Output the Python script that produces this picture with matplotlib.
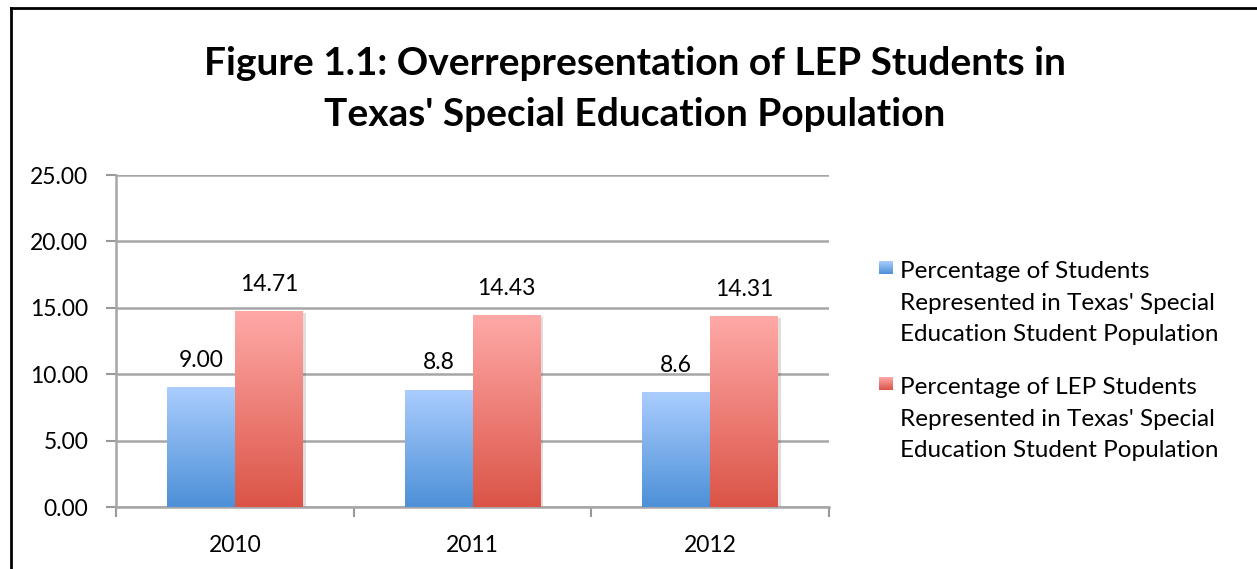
import matplotlib.pyplot as plt
import numpy as np
from matplotlib.colors import LinearSegmentedColormap
from matplotlib.lines import Line2D
import matplotlib.patheffects as pe

plt.rcParams['font.family'] = ['Lato', 'DejaVu Sans']

years = ['2010', '2011', '2012']
all_students = [9.00, 8.8, 8.6]
lep_students = [14.71, 14.43, 14.31]
all_labels = ['9.00', '8.8', '8.6']
lep_labels = ['14.71', '14.43', '14.31']
series_names = [
    "Percentage of Students\nRepresented in Texas' Special\nEducation Student Population",
    "Percentage of LEP Students\nRepresented in Texas' Special\nEducation Student Population",
]
title = ("Figure 1.1: Overrepresentation of LEP Students in\n"
         "Texas' Special Education Population")

blue_top, blue_bottom = '#aacdfe', '#4d90d7'
red_top, red_bottom = '#ffa9a7', '#db5447'

W, H = 1257, 569
fig = plt.figure(figsize=(W / 100, H / 100), dpi=100)
ax = fig.add_axes([116 / W, 1 - 507 / H, (829 - 116) / W, (507 - 175) / H])

x = np.arange(len(years))
width = 0.286
shadow = [pe.SimplePatchShadow(offset=(2, -1), alpha=0.15), pe.Normal()]
bars_a = ax.bar(x - width / 2, all_students, width, color=blue_bottom, zorder=2,
                path_effects=shadow)
bars_b = ax.bar(x + width / 2, lep_students, width, color=red_bottom, zorder=2,
                path_effects=shadow)

# gradient fill on top of each bar
grad = np.linspace(0, 1, 256).reshape(-1, 1)
for bars, top, bottom in [(bars_a, blue_top, blue_bottom), (bars_b, red_top, red_bottom)]:
    cmap = LinearSegmentedColormap.from_list('g', [bottom, top])
    for b in bars:
        bx, bw, bh = b.get_x(), b.get_width(), b.get_height()
        ax.imshow(grad, cmap=cmap, extent=[bx, bx + bw, 0, bh], origin='lower',
                  aspect='auto', zorder=3)

for bars, labels in [(bars_a, all_labels), (bars_b, lep_labels)]:
    for b, lab in zip(bars, labels):
        ax.annotate(lab, (b.get_x() + b.get_width() / 2, b.get_height()),
                    xytext=(0, 15), textcoords='offset points',
                    ha='center', va='baseline', fontsize=16.5)

ax.set_xlim(-0.5, 2.5)
ax.set_ylim(0, 25)
ax.set_yticks(np.arange(0, 26, 5))
ax.set_yticklabels([f'{v:.2f}' for v in np.arange(0, 26, 5)])
ax.set_xticks(x)
ax.set_xticklabels(years)
ax.set_xticks(np.arange(-0.5, 3, 1), minor=True)
ax.tick_params(axis='x', which='major', length=0, pad=20, labelsize=16.5)
ax.tick_params(axis='x', which='minor', length=7, width=1.5, color='#999999')
ax.tick_params(axis='y', length=7, width=1.5, color='#999999', pad=13, labelsize=16.5)
ax.yaxis.grid(True, color='#a6a6a6', linewidth=1.8, zorder=0)
ax.set_axisbelow(True)
for s in ['top', 'right']:
    ax.spines[s].set_visible(False)
for s in ['left', 'bottom']:
    ax.spines[s].set_color('#a6a6a6')
    ax.spines[s].set_linewidth(1.8)

# legend: swatch beside the first line of each three-line label
swatch_tops = [261, 377]
last_baselines = [341, 457]
swatches = [(blue_top, blue_bottom), (red_top, red_bottom)]
for name, st, bl, (top, bottom) in zip(series_names, swatch_tops, last_baselines, swatches):
    cmap = LinearSegmentedColormap.from_list('g', [bottom, top])
    sw = fig.add_axes([879 / W, 1 - (st + 13) / H, 14 / W, 13 / H])
    sw.imshow(grad, cmap=cmap, origin='lower', aspect='auto')
    sw.axis('off')
    fig.text(900 / W, 1 - bl / H, name, ha='left', va='baseline', fontsize=17.5,
             linespacing=1.61)

fig.text(0.505, 1 - 89 / H, title, ha='center', va='center', fontsize=28,
         fontweight='bold', linespacing=1.55)

# chart border (left and top edges visible)
fig.add_artist(Line2D([11 / W, 11 / W], [0, 1 - 8 / H], color='black', lw=2))
fig.add_artist(Line2D([11 / W, 1], [1 - 8 / H, 1 - 8 / H], color='black', lw=2))

fig.savefig('out.png', dpi=100)
